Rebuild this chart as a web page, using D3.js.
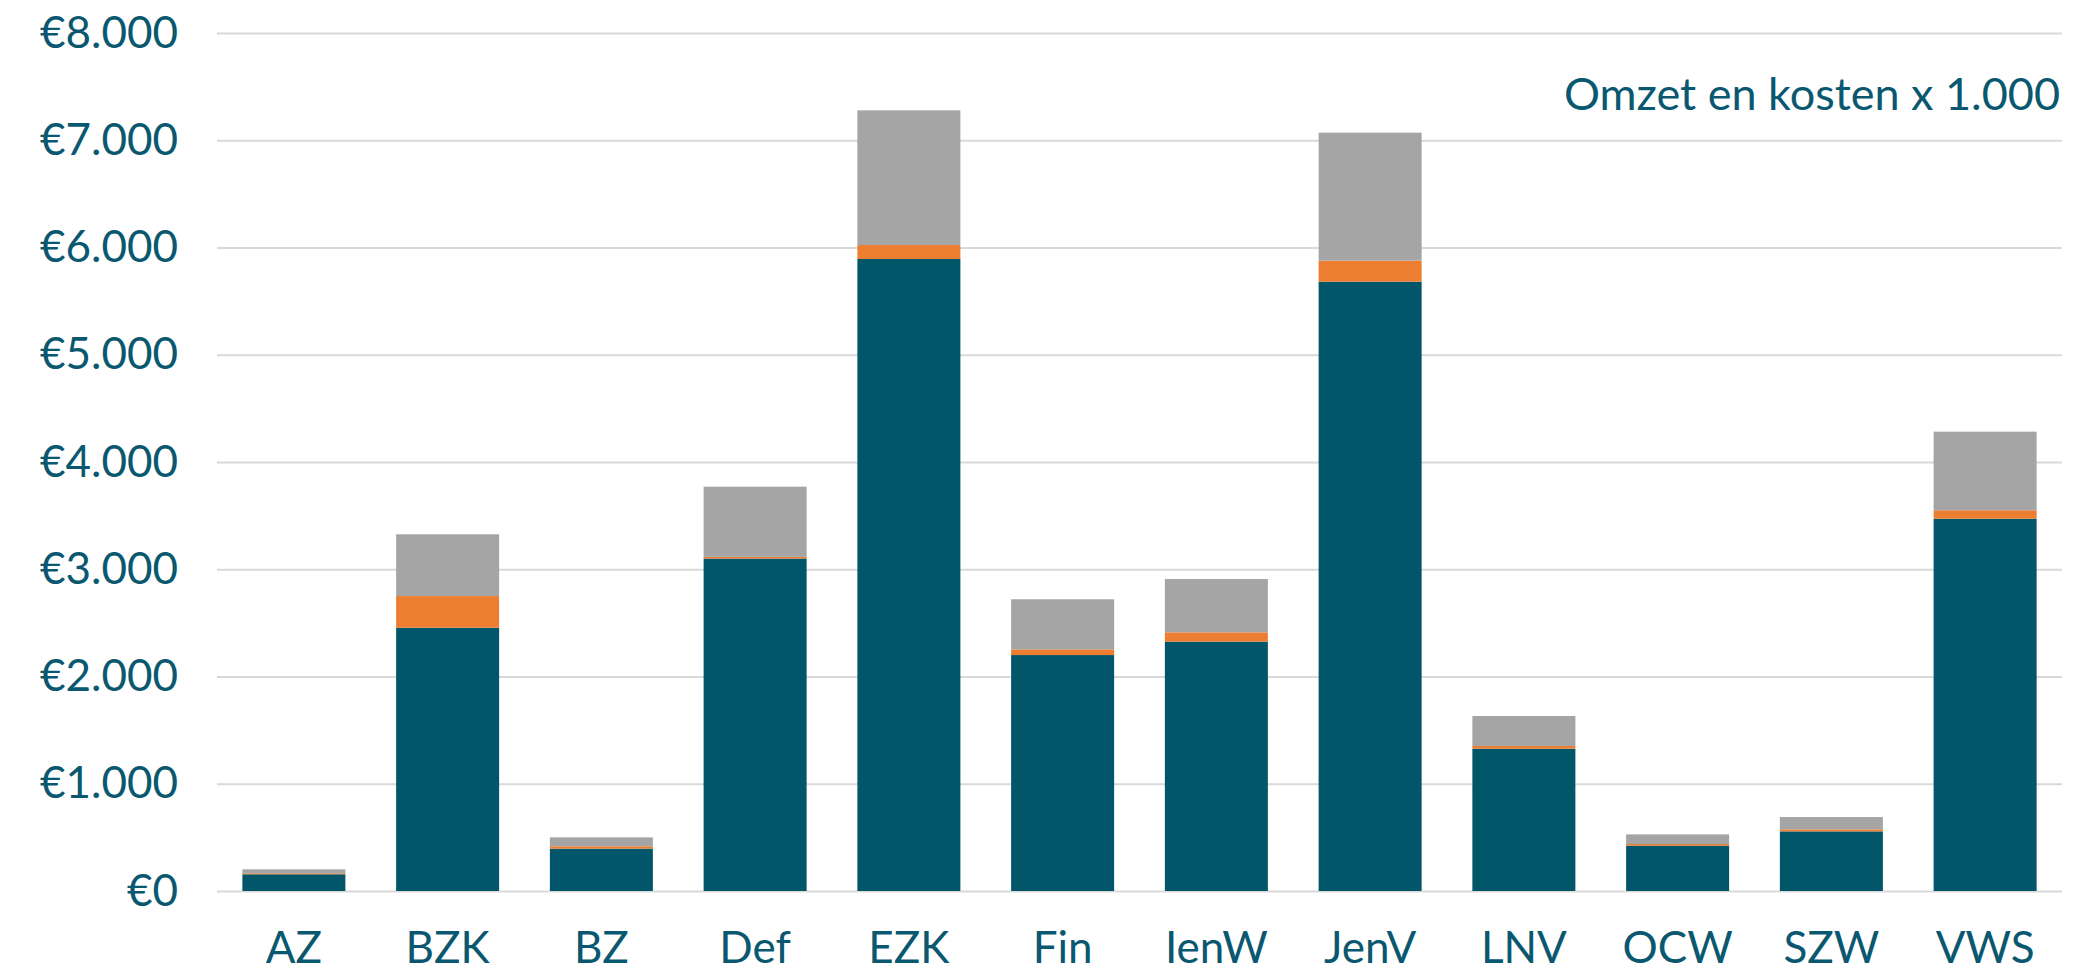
<!DOCTYPE html>
<html>
<head>
<meta charset="utf-8">
<script src="https://cdn.jsdelivr.net/npm/d3@7"></script>
<style>
  body { margin: 0; background: #fff; }
  text { font-family: Lato, "Noto Sans", sans-serif; }
</style>
</head>
<body>
<div id="my_plot"></div>
<script>
var width = 2074, height = 971;
var margin = {top: 33, right: 12, bottom: 80, left: 217};

// ministries on the x-axis
var categories = ["AZ", "BZK", "BZ", "Def", "EZK", "Fin", "IenW", "JenV", "LNV", "OCW", "SZW", "VWS"];
// three stacked parts, bottom to top (x 1.000)
var part1 = [156, 2455, 395, 3100, 5893, 2200, 2325, 5681, 1327, 423, 556, 3471];
var part2 = [9, 295, 22, 15, 130, 53, 87, 196, 25, 15, 19, 79];
var part3 = [37, 576, 83, 655, 1256, 467, 497, 1194, 280, 90, 115, 733];
var keys = ["part1", "part2", "part3"];
var colors = ["#02566a", "#ed7d31", "#a5a5a5"];
var yTicks = [0, 1000, 2000, 3000, 4000, 5000, 6000, 7000, 8000];
var title = "Omzet en kosten x 1.000";

var textColor = "#0a5870";
var w = width - margin.left - margin.right;
var h = height - margin.top - margin.bottom;

var rows = categories.map(function(c, i) {
  return {cat: c, part1: part1[i], part2: part2[i], part3: part3[i]};
});

var nl = d3.formatLocale({decimal: ",", thousands: ".", grouping: [3], currency: ["€", ""]});
var euro = nl.format("$,.0f");

var svg = d3.select("#my_plot")
  .append("svg")
    .attr("width", width)
    .attr("height", height)
  .append("g")
    .attr("transform", "translate(" + margin.left + "," + margin.top + ")");

//Y-axis with gridlines
var y = d3.scaleLinear()
  .domain([0, 8000])
  .range([h, 0]);
var yAxis = svg.append("g")
  .call(d3.axisLeft(y).tickValues(yTicks).tickSize(-w).tickPadding(39).tickFormat(euro));
yAxis.select(".domain").remove();
yAxis.selectAll("line")
  .attr("stroke", "#d9d9d9")
  .attr("stroke-width", 2);
yAxis.selectAll("text")
  .attr("fill", textColor)
  .style("font-size", "44px");

//X-axis
var x = d3.scaleBand()
  .domain(categories)
  .range([0, w])
  .paddingInner(0.33)
  .paddingOuter(0.165);
var xAxis = svg.append("g")
  .attr("transform", "translate(0," + h + ")")
  .call(d3.axisBottom(x).tickSize(0).tickPadding(41));
xAxis.select(".domain").remove();
xAxis.selectAll("text")
  .attr("fill", textColor)
  .style("font-size", "44px");

// stacked bars
var stacked = d3.stack().keys(keys)(rows);
var color = d3.scaleOrdinal().domain(keys).range(colors);

svg.append("g")
  .selectAll("g")
  .data(stacked)
  .enter()
  .append("g")
    .attr("fill", function(d) { return color(d.key); })
  .selectAll("rect")
  .data(function(d) { return d; })
  .enter()
  .append("rect")
    .attr("x", function(d) { return x(d.data.cat); })
    .attr("y", function(d) { return y(d[1]); })
    .attr("width", x.bandwidth())
    .attr("height", function(d) { return y(d[0]) - y(d[1]); });

// title top right
svg.append("text")
  .attr("text-anchor", "end")
  .attr("x", w - 2)
  .attr("y", 77)
  .attr("fill", textColor)
  .style("font-size", "45px")
  .text(title);
</script>
</body>
</html>
